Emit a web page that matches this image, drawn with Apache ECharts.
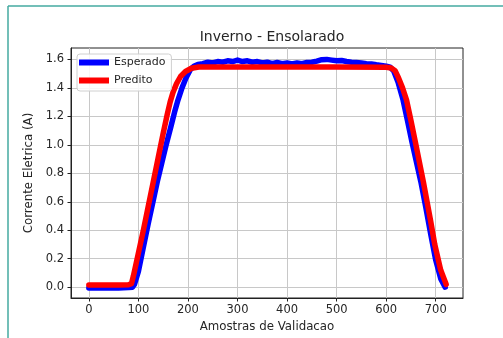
<!DOCTYPE html>
<html>
<head>
<meta charset="utf-8">
<script src="https://cdn.jsdelivr.net/npm/echarts@6/dist/echarts.min.js"></script>
<style>
html,body{margin:0;padding:0;background:#fff;}
#chart{width:503px;height:338px;}
</style>
</head>
<body>
<div id="chart"></div>
<script>
// ---- data ----
const titleText = 'Inverno - Ensolarado';
const xAxisName = 'Amostras de Validacao';
const yAxisName = 'Corrente Eletrica (A)';
const seriesNames = ['Esperado', 'Predito'];

const xTicks = [0, 100, 200, 300, 400, 500, 600, 700];
const yTicks = [0.0, 0.2, 0.4, 0.6, 0.8, 1.0, 1.2, 1.4, 1.6];

const esperadoX = [0, 20, 40, 60, 80, 88, 92, 100, 110, 120, 130, 138, 147, 156, 165, 173, 180, 188, 196, 205, 212, 220, 230, 240, 250, 260, 270, 280, 290, 300, 310, 320, 330, 340, 350, 360, 370, 380, 390, 400, 410, 420, 430, 440, 450, 460, 470, 480, 490, 500, 510, 520, 530, 540, 550, 560, 570, 580, 590, 600, 608, 615, 624, 634, 643, 652, 661, 670, 680, 690, 700, 710, 719];
const esperadoY = [-0.005, -0.005, -0.005, -0.005, -0.003, 0.0, 0.02, 0.11, 0.28, 0.45, 0.61, 0.74, 0.87, 1.0, 1.12, 1.23, 1.316, 1.4, 1.47, 1.53, 1.552, 1.565, 1.57, 1.58, 1.575, 1.585, 1.58, 1.59, 1.585, 1.595, 1.585, 1.59, 1.58, 1.585, 1.575, 1.58, 1.57, 1.578, 1.57, 1.575, 1.568, 1.575, 1.57, 1.578, 1.58, 1.588, 1.598, 1.6, 1.595, 1.59, 1.592, 1.585, 1.58, 1.578, 1.575, 1.57, 1.568, 1.562, 1.558, 1.552, 1.545, 1.52, 1.44, 1.316, 1.17, 1.02, 0.88, 0.74, 0.56, 0.37, 0.19, 0.06, 0.0];

const preditoX = [0, 20, 40, 60, 80, 86, 90, 100, 110, 120, 130, 140, 150, 158, 164, 170, 177, 185, 195, 207, 222, 300, 400, 500, 600, 610, 618, 625, 633, 641, 650, 660, 675, 690, 698, 710, 721];
const preditoY = [0.015, 0.015, 0.015, 0.015, 0.017, 0.025, 0.08, 0.24, 0.4, 0.57, 0.74, 0.91, 1.08, 1.21, 1.3, 1.37, 1.43, 1.48, 1.515, 1.538, 1.547, 1.547, 1.547, 1.547, 1.545, 1.54, 1.52, 1.47, 1.40, 1.316, 1.17, 1.0, 0.74, 0.46, 0.30, 0.12, 0.02];

// ---- chart ----
const pair = (xs, ys) => xs.map((x, i) => [x, ys[i]]);
const font = 'DejaVu Sans';
const txt = '#262626';

const chart = echarts.init(document.getElementById('chart'), null, {renderer: 'canvas'});
chart.setOption({
  animation: false,
  backgroundColor: '#fff',
  title: {
    text: titleText, left: 267, top: 25, textAlign: 'center',
    textStyle: {fontFamily: font, fontSize: 14, fontWeight: 'normal', color: txt}
  },
  grid: {left: 71, right: 40, top: 48, bottom: 37, show: true, borderColor: '#222', borderWidth: 1, backgroundColor: 'transparent'},
  legend: {
    data: seriesNames, orient: 'vertical', left: 77, top: 54,
    icon: 'rect', itemWidth: 30, itemHeight: 6, itemGap: 7,
    padding: [3, 6, 5, 2],
    backgroundColor: 'rgba(255,255,255,0.85)', borderColor: '#d0d0d0', borderWidth: 1, borderRadius: 3,
    textStyle: {fontFamily: font, fontSize: 11, color: txt}
  },
  xAxis: {
    type: 'value', min: -36, max: 755,
    name: xAxisName, nameLocation: 'middle', nameGap: 23,
    nameTextStyle: {fontFamily: font, fontSize: 11.8, color: txt},
    axisLine: {show: true, onZero: false, lineStyle: {color: '#222'}},
    axisTick: {show: true, length: 3.5, customValues: xTicks, lineStyle: {color: '#222'}},
    axisLabel: {customValues: xTicks, fontFamily: font, fontSize: 11.5, color: txt, margin: 6},
    splitLine: {show: true, lineStyle: {color: '#c8c8c8', width: 1}}
  },
  yAxis: {
    type: 'value', min: -0.076, max: 1.68,
    name: yAxisName, nameLocation: 'middle', nameGap: 30,
    nameTextStyle: {fontFamily: font, fontSize: 11.8, color: txt},
    axisLine: {show: true, onZero: false, lineStyle: {color: '#222'}},
    axisTick: {show: true, length: 3.5, customValues: yTicks, lineStyle: {color: '#222'}},
    axisLabel: {customValues: yTicks, fontFamily: font, fontSize: 11.5, color: txt, margin: 7,
      formatter: v => v.toFixed(1)},
    splitLine: {show: true, lineStyle: {color: '#c8c8c8', width: 1}}
  },
  series: [
    {name: seriesNames[0], type: 'line', data: pair(esperadoX, esperadoY), showSymbol: false,
     lineStyle: {color: '#0000ff', width: 5.5, join: 'round', cap: 'round'}, itemStyle: {color: '#0000ff'}, z: 2},
    {name: seriesNames[1], type: 'line', data: pair(preditoX, preditoY), showSymbol: false,
     lineStyle: {color: '#ff0000', width: 5.5, join: 'round', cap: 'round'}, itemStyle: {color: '#ff0000'}, z: 3}
  ],
  graphic: [
    {type: 'line', shape: {x1: 8, y1: 6, x2: 503, y2: 6}, style: {stroke: '#44aaa0', lineWidth: 1.5}, silent: true},
    {type: 'line', shape: {x1: 8, y1: 6, x2: 8, y2: 338}, style: {stroke: '#44aaa0', lineWidth: 1.5}, silent: true}
  ]
});
</script>
</body>
</html>
